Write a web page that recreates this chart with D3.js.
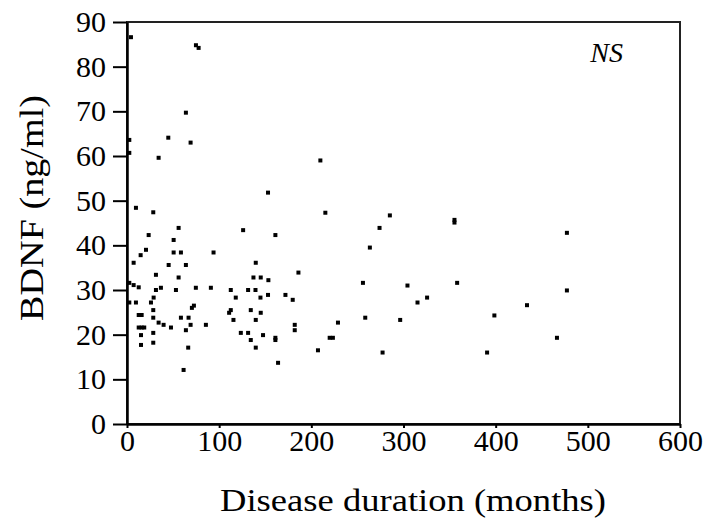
<!DOCTYPE html>
<html>
<head>
<meta charset="utf-8">
<script src="https://cdn.jsdelivr.net/npm/d3@7"></script>
<style>
  body { margin: 0; background: #fff; }
  svg text { font-family: "Liberation Serif", "Times New Roman", serif; fill: #000; }
</style>
</head>
<body>
<svg id="chart" width="710" height="524"></svg>
<script>
// Disease duration (months) vs BDNF (ng/ml)
const durationMonths = [
  4.3, 74.8, 77.7, 63.9, 2.5, 44.8, 69, 2.5, 34.3, 153,
  9.7, 28.5, 56, 126, 161, 23.5, 50.6, 20.6, 14.8, 50.6,
  58.5, 93.9, 7.2, 45.2, 63.9, 139.7, 31.4, 56, 137.2, 145.1,
  153.4, 186, 2.5, 7.2, 12.7, 31.4, 36.8, 74.7, 91, 53.1,
  112.6, 131.4, 139.4, 153, 144.8, 171.9, 179.8, 118, 2.5, 9.7,
  26, 28.9, 70.4, 72.6, 110.8, 112.6, 134.3, 145.1, 28.5, 12.7,
  15.9, 28.5, 58.5, 66.8, 115.5, 139.7, 34.3, 39.7, 69, 85.6,
  47.7, 12.7, 15.9, 18.7, 63.9, 182, 182, 28.5, 123.5, 131.4,
  15.2, 147.6, 134.3, 161, 161, 15.2, 28.5, 139.7, 66.4, 163.9,
  61.4, 209.8, 215.2, 285.2, 355.3, 355.3, 274, 263.5, 256, 304.3,
  358.2, 315.2, 325.6, 258.5, 296.4, 228.9, 219.9, 223.4, 207.2, 277.3,
  390.7, 477.3, 477.3, 434, 398.6, 466.5
];
const bdnfValues = [
  86.6, 84.8, 84.2, 69.7, 63.6, 64.1, 63, 60.7, 59.6, 51.8,
  48.4, 47.4, 43.9, 43.4, 42.3, 42.3, 41.2, 39, 37.8, 38.4,
  38.4, 38.4, 36.1, 35.6, 35.6, 36.1, 33.4, 32.8, 32.8, 32.8,
  32.2, 33.9, 31.6, 31.1, 30.6, 30, 30.5, 30.5, 30.5, 30,
  30, 30, 30, 28.9, 28.3, 28.9, 27.8, 28.3, 27.2, 27.2,
  27.2, 28.3, 26, 26.5, 24.9, 25.5, 25.5, 24.9, 25.5, 24.4,
  24.4, 23.8, 23.8, 23.8, 23.3, 23.3, 22.7, 22.2, 22.2, 22.2,
  21.6, 21.6, 21.6, 21.6, 21, 22.2, 21, 20.4, 20.4, 20.4,
  19.9, 19.9, 18.8, 19.3, 18.8, 17.7, 18.2, 17.1, 17.1, 13.7,
  12.1, 59, 47.3, 46.7, 45.7, 45.1, 43.9, 39.5, 31.6, 31,
  31.6, 27.2, 28.3, 23.8, 23.3, 22.7, 19.3, 19.3, 16.5, 16,
  16, 42.8, 29.9, 26.6, 24.3, 19.3
];
const xTicks = [0, 100, 200, 300, 400, 500, 600];
const yTicks = [0, 10, 20, 30, 40, 50, 60, 70, 80, 90];

const serif = '"Liberation Serif", "Times New Roman", serif';
const svg = d3.select("#chart");
const m = { left: 127, right: 680, top: 22, bottom: 424 };

const x = d3.scaleLinear().domain([0, 600]).range([m.left, m.right]);
const y = d3.scaleLinear().domain([0, 90]).range([m.bottom, m.top]);

// frame (top and right sides)
svg.append("rect")
  .attr("x", m.left).attr("y", m.top)
  .attr("width", m.right - m.left).attr("height", m.bottom - m.top)
  .attr("fill", "none").attr("stroke", "#222").attr("stroke-width", 2);

const yAxis = svg.append("g")
  .attr("transform", `translate(${m.left},0)`)
  .call(d3.axisLeft(y).tickValues(yTicks).tickSize(14).tickSizeOuter(0).tickPadding(7));
const xAxis = svg.append("g")
  .attr("transform", `translate(0,${m.bottom})`)
  .call(d3.axisBottom(x).tickValues(xTicks).tickSize(4).tickSizeOuter(0).tickPadding(2));

[yAxis, xAxis].forEach(g => {
  g.attr("font-family", serif).attr("font-size", 30);
  g.select(".domain").attr("stroke", "#000").attr("stroke-width", 2.5);
  g.selectAll(".tick line").attr("stroke", "#000").attr("stroke-width", 2);
  g.selectAll(".tick text")
    .attr("font-family", serif)
    .style("font-family", serif)
    .style("font-size", "30px").attr("fill", "#000");
});

// points
svg.append("g").selectAll("rect")
  .data(d3.range(durationMonths.length))
  .join("rect")
  .attr("x", i => x(durationMonths[i]) - 2)
  .attr("y", i => y(bdnfValues[i]) - 2)
  .attr("width", 4).attr("height", 4)
  .attr("fill", "#000");

// labels
svg.append("text")
  .attr("x", 413).attr("y", 511)
  .attr("text-anchor", "middle")
  .attr("textLength", 386).attr("lengthAdjust", "spacingAndGlyphs")
  .style("font-family", serif)
  .style("font-size", "32px")
  .text("Disease duration (months)");

svg.append("text")
  .attr("transform", "translate(43,208) rotate(-90)")
  .attr("text-anchor", "middle")
  .attr("textLength", 226).attr("lengthAdjust", "spacingAndGlyphs")
  .style("font-family", serif)
  .style("font-size", "33px")
  .text("BDNF (ng/ml)");

svg.append("text")
  .attr("x", 623).attr("y", 62)
  .attr("text-anchor", "end")
  .style("font-family", serif)
  .style("font-size", "28px").style("font-style", "italic")
  .text("NS");
</script>
</body>
</html>
